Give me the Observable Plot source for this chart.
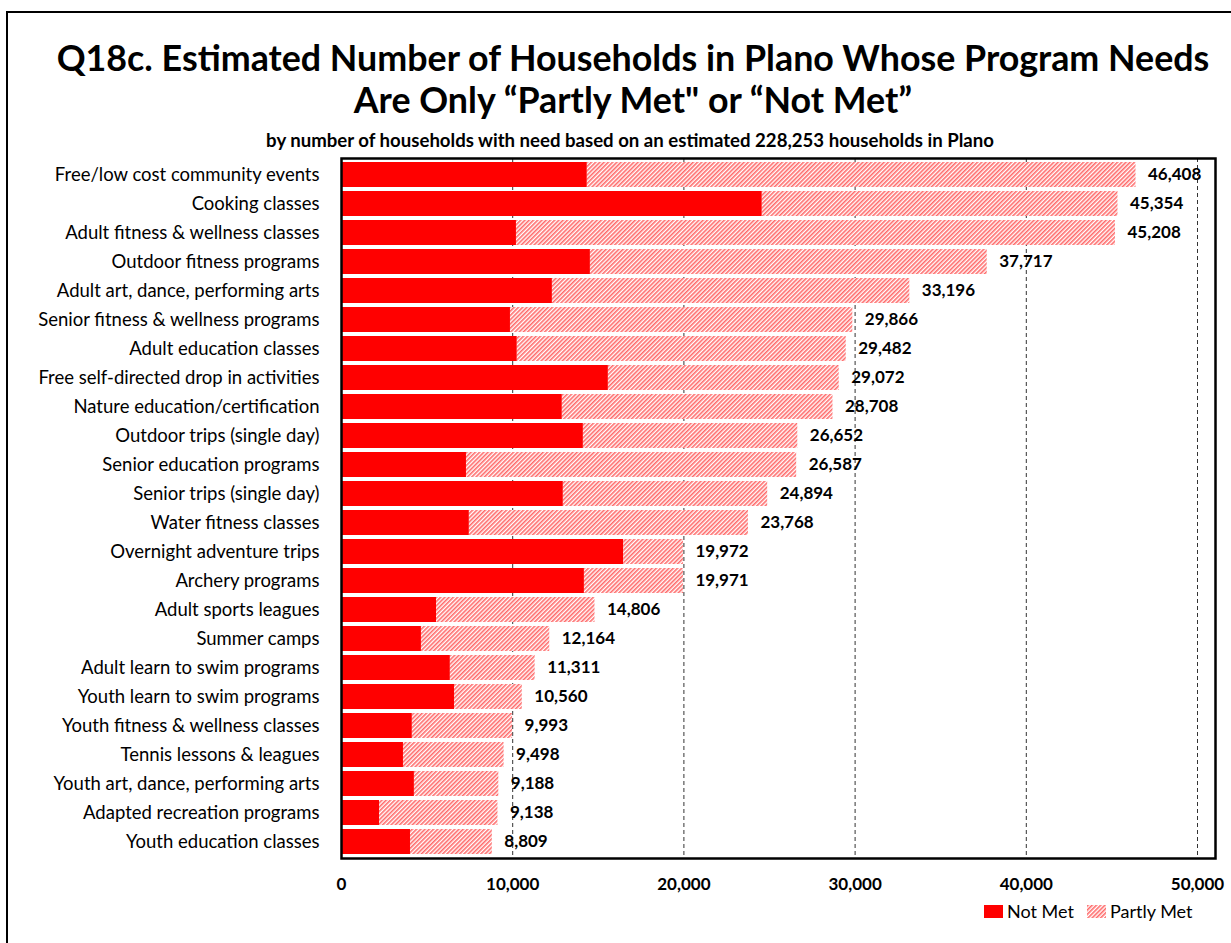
<!DOCTYPE html>
<html>
<head>
<meta charset="utf-8">
<script src="https://cdn.jsdelivr.net/npm/d3@7"></script>
<script src="https://cdn.jsdelivr.net/npm/@observablehq/plot@0.6"></script>
<style>
  body { margin: 0; background: #fff; font-family: Lato, "Open Sans", sans-serif; color: #000; }
  #page { position: relative; width: 1231px; height: 943px; overflow: hidden; background: #fff; }
  #border { position: absolute; left: 6px; top: 11px; width: 1260px; height: 960px; border: 2px solid #000; box-sizing: border-box; }
  #title { position: absolute; left: 0; width: 1266px; top: 37px; text-align: center; font-weight: bold; font-size: 35.8px; line-height: 42px; }
  #subtitle { position: absolute; left: 0; width: 1260px; top: 130px; text-align: center; font-weight: bold; font-size: 18.6px; line-height: 20px; }
  #chart { position: absolute; left: 0; top: 150px; }
  .leg { position: absolute; top: 901px; font-size: 18px; line-height: 20px; display: flex; align-items: center; }
  .leg svg { margin-right: 4px; }
</style>
</head>
<body>
<div id="page">
  <div id="border"></div>
  <div id="title">Q18c. Estimated Number of Households in Plano Whose Program Needs<br>Are Only “Partly Met" or “Not Met”</div>
  <div id="subtitle">by number of households with need based on an estimated 228,253 households in Plano</div>
  <div id="chart"></div>
  <div class="leg" style="left:984px"><svg width="19" height="13"><rect width="19" height="13" fill="#ff0000"/></svg><span id="leg0"></span></div>
  <div class="leg" style="left:1087px"><svg width="19" height="13"><defs><pattern id="hatchLeg" patternUnits="userSpaceOnUse" width="3" height="3" patternTransform="rotate(45)"><rect width="3" height="3" fill="#fff"/><rect width="1.6" height="3" fill="#ff6a6a"/></pattern></defs><rect width="19" height="13" fill="url(#hatchLeg)"/></svg><span id="leg1"></span></div>
</div>
<script>
const categories = [
  "Free/low cost community events",
  "Cooking classes",
  "Adult fitness & wellness classes",
  "Outdoor fitness programs",
  "Adult art, dance, performing arts",
  "Senior fitness & wellness programs",
  "Adult education classes",
  "Free self-directed drop in activities",
  "Nature education/certification",
  "Outdoor trips (single day)",
  "Senior education programs",
  "Senior trips (single day)",
  "Water fitness classes",
  "Overnight adventure trips",
  "Archery programs",
  "Adult sports leagues",
  "Summer camps",
  "Adult learn to swim programs",
  "Youth learn to swim programs",
  "Youth fitness & wellness classes",
  "Tennis lessons & leagues",
  "Youth art, dance, performing arts",
  "Adapted recreation programs",
  "Youth education classes"
];
const notMet = [14360, 24580, 10220, 14540, 12320, 9870, 10270, 15590, 12900, 14130, 7300, 12960, 7470, 16490, 14190, 5550, 4670, 6360, 6600, 4140, 3620, 4260, 2220, 4030];
const totals = [46408, 45354, 45208, 37717, 33196, 29866, 29482, 29072, 28708, 26652, 26587, 24894, 23768, 19972, 19971, 14806, 12164, 11311, 10560, 9993, 9498, 9188, 9138, 8809];
const xTicks = [0, 10000, 20000, 30000, 40000, 50000];
const gridTicks = [10000, 20000, 30000, 40000, 50000];
const seriesNames = ["Not Met", "Partly Met"];

document.getElementById("leg0").textContent = seriesNames[0];
document.getElementById("leg1").textContent = seriesNames[1];

const rows = categories.map((c, i) => ({cat: c, notMet: notMet[i], total: totals[i], partlyMet: totals[i] - notMet[i]}));
const fmt = d3.format(",");

const chart = Plot.plot({
  width: 1231,
  height: 760,
  marginLeft: 341,
  marginRight: 16,
  marginTop: 8,
  marginBottom: 52,
  style: {fontFamily: "Lato, 'Open Sans', sans-serif", color: "#000", background: "transparent", overflow: "visible"},
  x: {domain: [0, 50000], range: [341, 1197]},
  y: {domain: categories, range: [8, 708], paddingInner: 0.14, paddingOuter: 0.07, align: 0.5},
  marks: [
    Plot.ruleX(gridTicks, {stroke: "#333", strokeDasharray: "4,3", strokeWidth: 1}),
    Plot.barX(rows, {y: "cat", x1: 0, x2: "notMet", fill: "#ff0000"}),
    Plot.barX(rows, {y: "cat", x1: "notMet", x2: "total", fill: "url(#hatch)"}),
    Plot.text(rows, {y: "cat", x: "total", text: d => fmt(d.total), dx: 12, textAnchor: "start", fontWeight: "bold", fontSize: 17, fill: "#000"}),
    Plot.axisX({ticks: xTicks, tickSize: 0, tickPadding: 19, fontSize: 17, fontWeight: "bold", tickFormat: d => fmt(d), label: null}),
    Plot.axisY({tickSize: 0, tickPadding: 22, fontSize: 18.5, label: null}),
    Plot.frame({stroke: "#000", strokeWidth: 2.5})
  ]
});

const ns = "http://www.w3.org/2000/svg";
const defs = document.createElementNS(ns, "defs");
defs.innerHTML = '<pattern id="hatch" patternUnits="userSpaceOnUse" width="3" height="3" patternTransform="rotate(45)"><rect width="3" height="3" fill="#fff"/><rect width="1.6" height="3" fill="#ff6a6a"/></pattern>';
chart.insertBefore(defs, chart.firstChild);
document.getElementById("chart").appendChild(chart);
</script>
</body>
</html>
